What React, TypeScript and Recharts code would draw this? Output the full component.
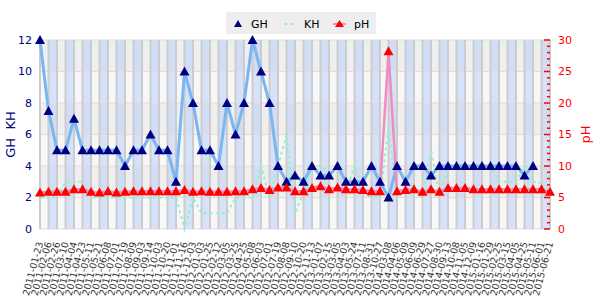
import React from "react";
import { CartesianGrid, Line, LineChart, XAxis, YAxis } from "recharts";

const dates = [
  "2011-01-23", "2011-02-06", "2011-02-26", "2011-03-10", "2011-04-04", "2011-04-23",
  "2011-05-11", "2011-05-21", "2011-06-08", "2011-07-01", "2011-07-19", "2011-08-09",
  "2011-09-03", "2011-09-14", "2011-10-03", "2011-10-20", "2011-11-01", "2011-11-16",
  "2011-12-03", "2012-01-03", "2012-01-25", "2012-02-12", "2012-03-05", "2012-03-25",
  "2012-04-25", "2012-05-08", "2012-06-03", "2012-07-01", "2012-07-19", "2012-08-08",
  "2012-09-10", "2012-10-20", "2012-11-13", "2013-01-07", "2013-02-15", "2013-03-05",
  "2013-04-03", "2013-05-24", "2013-07-11", "2013-08-31", "2013-10-27", "2014-03-08",
  "2014-04-06", "2014-05-09", "2014-06-09", "2014-06-29", "2014-07-27", "2014-08-30",
  "2014-09-13", "2014-10-08", "2014-11-05", "2014-12-09", "2015-01-16", "2015-01-29",
  "2015-02-25", "2015-03-15", "2015-04-05", "2015-04-25", "2015-05-11", "2015-06-01",
  "2015-06-21",
];

const ghValues = [
  12, 7.5, 5, 5, 7, 5, 5, 5, 5, 5, 4, 5, 5, 6, 5, 5, 3, 10, 8, 5, 5, 4, 8, 6, 8, 12, 10, 8,
  4, 3, 3.4, 3, 4, 3.4, 3.4, 4, 3, 3, 3, 4, 3, 2, 4, 3, 4, 4, 3.4, 4, 4, 4, 4, 4, 4, 4, 4,
  4, 4, 3.4, 4, null, null,
];

const khValues = [
  2, 2, 2, 3, 3, 3, 2, 2, 2, 2, 2, 2, 2, 2, 2, 2, 2, 0, 2, 1, 1, 1, 1, 2, 2, 2, 4, 2, 4, 6,
  1, 2.3, 4, 4, 3.6, 4, 2.3, 4, 2.3, 2, 2, 6.5, 2, 3, 2.6, 2, 5, 2, 4, 4, 4, 4, 4, 4, 3, 3,
  3, 4, 3, 2.9, null,
];

const phValues = [
  5.8, 5.9, 5.9, 5.9, 6.3, 6.3, 5.9, 5.8, 6.0, 5.8, 5.9, 6.0, 6.0, 6.0, 6.0, 6.0, 6.0, 6.2,
  5.9, 6.0, 5.9, 5.9, 5.9, 6.0, 6.0, 6.3, 6.5, 6.2, 6.6, 6.6, 6.0, 6.0, 6.5, 6.8, 6.3, 6.6,
  6.3, 6.3, 6.2, 6.0, 6.0, 28.2, 6.0, 6.2, 6.3, 5.9, 6.3, 5.9, 6.5, 6.5, 6.5, 6.3, 6.3, 6.3,
  6.3, 6.3, 6.3, 6.3, 6.3, 6.3, 5.9,
];

const leftTicks = [0, 2, 4, 6, 8, 10, 12];
const rightTicks = [
  0, 1, 2, 3, 4, 5, 6, 7, 8, 9, 10, 11, 12, 13, 14, 15, 16, 17, 18, 19, 20, 21, 22, 23,
  24, 25, 26, 27, 28, 29, 30,
];

const data = dates.map((date, i) => ({
  date,
  gh: ghValues[i],
  kh: khValues[i],
  ph: phValues[i],
}));

const FONT = "DejaVu Sans";

const Triangle = (props: any) => {
  const { cx, cy, fill, index } = props;
  if (cx == null || cy == null || Number.isNaN(cy)) return <g key={index} />;
  return (
    <path
      key={index}
      d={`M${cx},${cy - 5}L${cx + 5},${cy + 4}L${cx - 5},${cy + 4}Z`}
      fill={fill}
    />
  );
};

const DateTick = (props: any) => {
  const { x, y, payload } = props;
  const ty = y + 5;
  return (
    <text
      x={x}
      y={ty}
      transform={`rotate(-75 ${x} ${ty})`}
      textAnchor="end"
      dy="0.35em"
      fontSize={9.5}
      fontFamily={FONT}
      fill="#333"
    >
      {payload.value}
    </text>
  );
};

const PhTick = (props: any) => {
  const { x, y, payload } = props;
  const major = payload.value % 5 === 0;
  return (
    <g>
      <line x1={x - (major ? 6 : 3)} x2={x} y1={y} y2={y} stroke="#ff0000" strokeWidth={1.5} />
      {major && (
        <text x={x + 8} y={y} dy="0.35em" fontSize={11} fontFamily={FONT} fill="#ff0000">
          {payload.value}
        </text>
      )}
    </g>
  );
};

const LegendBox = () => (
  <svg
    width={150}
    height={22}
    style={{ position: "absolute", left: 226, top: 12, background: "#eeeeee" }}
  >
    <path d="M8,15L12,8L16,15Z" fill="#000080" />
    <text x={25} y={15.5} fontSize={11} fontFamily={FONT} fill="#000">GH</text>
    <line x1={58} x2={70} y1={12} y2={12} stroke="#99eecc" strokeWidth={2} strokeDasharray="3 3" />
    <text x={78} y={15.5} fontSize={11} fontFamily={FONT} fill="#000">KH</text>
    <line x1={107} x2={120} y1={12} y2={12} stroke="#f08cc4" strokeWidth={2} />
    <path d="M109,15L113.5,8L118,15Z" fill="#ff0000" />
    <text x={128} y={15.5} fontSize={11} fontFamily={FONT} fill="#000">pH</text>
  </svg>
);

export default function App() {
  return (
    <div style={{ position: "absolute", left: 0, top: 0, width: 600, height: 300, background: "#fff" }}>
      <LineChart
        width={600}
        height={300}
        data={data}
        margin={{ top: 40, right: 0, bottom: 0, left: 0 }}
      >
        <CartesianGrid
          yAxisId="left"
          vertical={false}
          stroke="none"
          horizontalFill={["#efefef", "#f7f7f7"]}
        />
        <CartesianGrid
          yAxisId="left"
          horizontal={false}
          stroke="none"
          verticalFill={["transparent", "rgba(160,188,255,0.38)"]}
        />
        <CartesianGrid yAxisId="left" vertical={false} stroke="#dddddd" strokeWidth={1} />
        <CartesianGrid yAxisId="left" horizontal={false} stroke="#cccccc" strokeWidth={2} />
        <XAxis
          dataKey="date"
          scale="point"
          interval={0}
          height={71}
          axisLine={false}
          tickLine={false}
          tick={<DateTick />}
        />
        <YAxis
          yAxisId="left"
          width={40}
          domain={[0, 12]}
          ticks={leftTicks}
          axisLine={false}
          tickLine={false}
          tick={{ fill: "#000080", fontSize: 11, fontFamily: FONT }}
          label={{
            value: "GH\u00a0\u00a0KH",
            angle: -90,
            position: "insideLeft",
            offset: 10,
            fill: "#000080",
            fontSize: 13,
            fontFamily: FONT,
            style: { textAnchor: "middle" },
          }}
        />
        <YAxis
          yAxisId="right"
          orientation="right"
          width={50}
          domain={[0, 30]}
          ticks={rightTicks}
          interval={0}
          axisLine={false}
          tickLine={false}
          tickSize={0}
          tickMargin={0}
          tick={<PhTick />}
          label={{
            value: "pH",
            angle: -90,
            position: "insideRight",
            offset: 15,
            fill: "#ff0000",
            fontSize: 13,
            fontFamily: FONT,
            style: { textAnchor: "middle" },
          }}
        />
        <Line
          yAxisId="left"
          dataKey="kh"
          stroke="#99eecc"
          strokeWidth={2}
          strokeDasharray="3 3"
          dot={false}
          activeDot={false}
          isAnimationActive={false}
        />
        <Line
          yAxisId="left"
          dataKey="gh"
          stroke="#7ab6f2"
          strokeWidth={3}
          dot={<Triangle fill="#000080" />}
          activeDot={false}
          isAnimationActive={false}
        />
        <Line
          yAxisId="right"
          dataKey="ph"
          stroke="#f08cc4"
          strokeWidth={2.5}
          dot={<Triangle fill="#ff0000" />}
          activeDot={false}
          isAnimationActive={false}
        />
      </LineChart>
      <LegendBox />
    </div>
  );
}
